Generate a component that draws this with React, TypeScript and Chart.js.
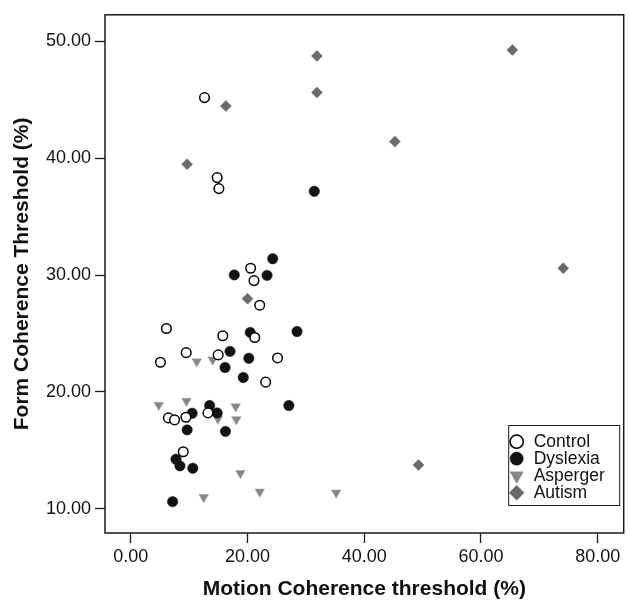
import React, { useEffect, useRef } from 'react';
import { Chart, registerables } from 'chart.js';
import { drawPoint } from 'chart.js/helpers';

Chart.register(...registerables);

const FONT = "'Liberation Sans', Arial, Helvetica, sans-serif";

const seriesNames = ['Control', 'Dyslexia', 'Asperger', 'Autism'];

const controlX = [12.64, 14.81, 15.1, 20.54, 21.12, 22.1, 6.11, 15.77, 21.25, 9.5, 14.98, 5.09, 25.15, 23.12, 6.45, 7.51, 9.45, 13.23, 8.99];
const controlY = [45.17, 38.33, 37.39, 30.58, 29.52, 27.42, 25.43, 24.81, 24.66, 23.36, 23.17, 22.54, 22.91, 20.84, 17.78, 17.61, 17.84, 18.21, 14.89];

const dyslexiaX = [31.45, 24.32, 17.74, 23.36, 20.47, 28.49, 17.01, 20.23, 16.16, 19.28, 27.09, 13.52, 10.52, 14.81, 9.67, 16.23, 7.75, 8.43, 10.63, 7.17];
const dyslexiaY = [37.16, 31.39, 30.01, 29.97, 25.09, 25.17, 23.47, 22.88, 22.09, 21.24, 18.84, 18.84, 18.18, 18.21, 16.76, 16.63, 14.25, 13.68, 13.48, 10.62];

const aspergerX = [11.31, 14.03, 4.8, 9.55, 17.98, 14.93, 18.1, 18.78, 22.1, 12.5, 35.2];
const aspergerY = [22.6, 22.75, 18.88, 19.22, 18.75, 17.7, 17.65, 13.05, 11.46, 11.0, 11.38];

const autismX = [31.9, 65.38, 31.9, 16.3, 45.25, 9.65, 74.1, 20.01, 49.3];
const autismY = [48.73, 49.25, 45.61, 44.45, 41.41, 39.48, 30.58, 27.98, 13.76];

const xTicks = [0, 20, 40, 60, 80];
const yTicks = [10, 20, 30, 40, 50];

const xTitle = 'Motion Coherence threshold (%)';
const yTitle = 'Form Coherence Threshold (%)';

const toPoints = (xs: number[], ys: number[]) => xs.map((x, i) => ({ x, y: ys[i] }));

const framePlugin = {
  id: 'frame',
  beforeDatasetsDraw(chart: any) {
    const { ctx, chartArea } = chart;
    ctx.save();
    ctx.strokeStyle = '#1a1a1a';
    ctx.lineWidth = 1.5;
    ctx.strokeRect(chartArea.left, chartArea.top, chartArea.right - chartArea.left, chartArea.bottom - chartArea.top);
    ctx.restore();
  },
};

const legendRadius = [6.6, 6.6, 7.8, 7.5];

const insetLegendPlugin = {
  id: 'insetLegend',
  afterDraw(chart: any) {
    const { ctx, chartArea } = chart;
    const right = chartArea.right - 4.5;
    const bottom = chartArea.bottom - 28;
    const width = 111;
    const height = 80;
    const left = right - width;
    const top = bottom - height;
    ctx.save();
    ctx.fillStyle = '#ffffff';
    ctx.fillRect(left, top, width, height);
    ctx.strokeStyle = '#1a1a1a';
    ctx.lineWidth = 1;
    ctx.strokeRect(left + 0.5, top + 0.5, width, height);
    chart.data.datasets.forEach((ds: any, i: number) => {
      const cy = top + 16.7 + i * 17;
      const cx = left + 8.5;
      ctx.fillStyle = ds.pointBackgroundColor;
      ctx.strokeStyle = ds.pointBorderColor;
      ctx.lineWidth = ds.pointBorderWidth;
      drawPoint(ctx, { pointStyle: ds.pointStyle, radius: legendRadius[i], rotation: ds.pointRotation || 0, borderWidth: ds.pointBorderWidth }, cx, cy);
      ctx.fillStyle = '#111111';
      ctx.font = `17.5px ${FONT}`;
      ctx.textBaseline = 'middle';
      ctx.textAlign = 'left';
      ctx.fillText(ds.label, left + 25.5, cy + 0.5);
    });
    ctx.restore();
  },
};

export default function App() {
  const ref = useRef<HTMLCanvasElement | null>(null);

  useEffect(() => {
    if (!ref.current) return;
    const chart = new Chart(ref.current, {
      type: 'scatter',
      data: {
        datasets: [
          {
            label: seriesNames[0],
            data: toPoints(controlX, controlY),
            pointStyle: 'circle',
            pointRadius: 4.8,
            pointBackgroundColor: '#ffffff',
            pointBorderColor: '#000000',
            pointBorderWidth: 1.5,
          },
          {
            label: seriesNames[1],
            data: toPoints(dyslexiaX, dyslexiaY),
            pointStyle: 'circle',
            pointRadius: 5.2,
            pointBackgroundColor: '#121212',
            pointBorderColor: '#121212',
            pointBorderWidth: 0.5,
          },
          {
            label: seriesNames[2],
            data: toPoints(aspergerX, aspergerY),
            pointStyle: 'triangle',
            pointRotation: 180,
            pointRadius: 5.5,
            pointBackgroundColor: '#878787',
            pointBorderColor: '#9a9a9a',
            pointBorderWidth: 0.5,
          },
          {
            label: seriesNames[3],
            data: toPoints(autismX, autismY),
            pointStyle: 'rectRot',
            pointRadius: 5.5,
            pointBackgroundColor: '#6a6a6a',
            pointBorderColor: '#6a6a6a',
            pointBorderWidth: 0.5,
          },
        ],
      } as any,
      options: {
        animation: false,
        responsive: false,
        maintainAspectRatio: false,
        layout: { padding: { top: 11, right: 1, left: 0, bottom: 0 } },
        plugins: { legend: { display: false }, tooltip: { enabled: false } },
        scales: {
          x: {
            type: 'linear',
            min: -4.41,
            max: 84.46,
            afterBuildTicks: (s: any) => {
              s.ticks = xTicks.map((v) => ({ value: v }));
            },
            afterFit: (s: any) => {
              s.height = 71;
            },
            grid: { drawOnChartArea: false, drawTicks: true, tickLength: 10, color: '#1a1a1a', tickWidth: 1.3 },
            border: { display: false },
            ticks: {
              padding: 3,
              color: '#111111',
              autoSkip: false,
              maxRotation: 0,
              font: { size: 18, family: FONT },
              callback: (v: any) => Number(v).toFixed(2),
            },
            title: {
              display: true,
              text: xTitle,
              color: '#111111',
              font: { size: 21, weight: 'bold', family: FONT },
              padding: { top: 0, bottom: 2 },
            },
          },
          y: {
            type: 'linear',
            min: 7.94,
            max: 52.25,
            afterBuildTicks: (s: any) => {
              s.ticks = yTicks.map((v) => ({ value: v }));
            },
            afterFit: (s: any) => {
              s.width = 105;
            },
            grid: { drawOnChartArea: false, drawTicks: true, tickLength: 10, color: '#1a1a1a', tickWidth: 1.3 },
            border: { display: false },
            ticks: {
              padding: 4,
              color: '#111111',
              autoSkip: false,
              font: { size: 18, family: FONT },
              callback: (v: any) => Number(v).toFixed(2),
            },
            title: {
              display: true,
              text: yTitle,
              color: '#111111',
              font: { size: 21, weight: 'bold', family: FONT },
              padding: { top: 10, bottom: 0 },
            },
          },
        },
      } as any,
      plugins: [framePlugin, insetLegendPlugin],
    });
    return () => chart.destroy();
  }, []);

  return (
    <div style={{ position: 'absolute', left: 0, top: 0, width: 630, height: 604, background: '#ffffff' }}>
      <canvas ref={ref} width={630} height={604} style={{ display: 'block', width: 630, height: 604 }} />
    </div>
  );
}
